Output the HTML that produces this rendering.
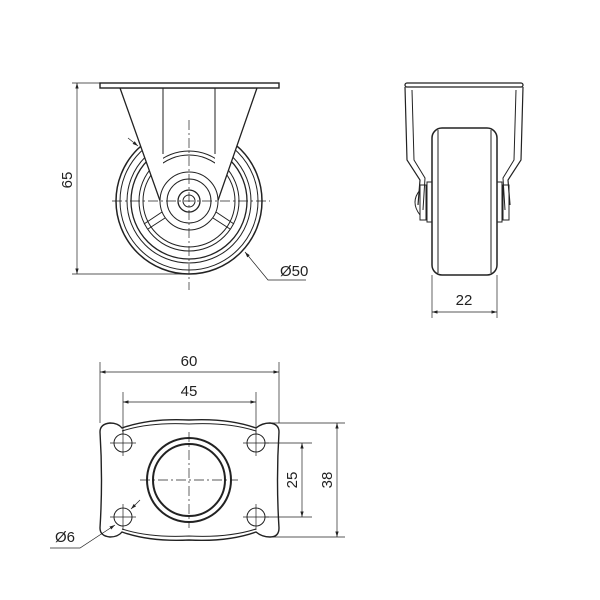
<!DOCTYPE html>
<html><head><style>body{margin:0;background:#fff}svg{display:block}text{font-family:"Liberation Sans",sans-serif;font-size:15px;fill:#222}</style></head><body>
<svg width="600" height="600" viewBox="0 0 600 600" xmlns="http://www.w3.org/2000/svg">
<defs><marker id="a" viewBox="0 0 10 10" refX="10" refY="5" markerWidth="8" markerHeight="8" orient="auto-start-reverse"><path d="M0,2 L10,5 L0,8 z" fill="#222"/></marker>
<clipPath id="strip"><rect x="163" y="88" width="52" height="100"/></clipPath></defs>
<g fill="none" stroke="#222" stroke-width="1">
<!-- FRONT VIEW -->
<line x1="72" y1="83" x2="110" y2="83" stroke-width="0.7"/>
<line x1="72" y1="274" x2="185" y2="274" stroke-width="0.7"/>
<line x1="77" y1="83" x2="77" y2="274" stroke-width="0.7" marker-start="url(#a)" marker-end="url(#a)"/>
<circle cx="189" cy="201" r="73" stroke-width="1.5"/>
<circle cx="189" cy="201" r="69"/>
<circle cx="189" cy="201" r="62"/>
<circle cx="189" cy="201" r="58" stroke-width="1.3"/>
<circle cx="189" cy="201" r="50"/>
<circle cx="189" cy="201" r="46"/>
<!-- spokes -->
<path d="M162 212 L144 224 M165 218 L148 229 M216 212 L234 224 M213 218 L230 229" fill="none"/>
<polygon points="120,88 257,88 214,212 164,212" fill="#fff" stroke-width="1.3"/>
<g clip-path="url(#strip)">
<circle cx="189" cy="201" r="50"/>
<circle cx="189" cy="201" r="46"/>
</g>
<path d="M163 88 L163 154 M215 88 L215 154"/>
<circle cx="189" cy="201" r="29" fill="#fff"/>
<circle cx="189" cy="201" r="22"/>
<circle cx="189" cy="201" r="11" stroke-width="1.3"/>
<circle cx="189" cy="201" r="6"/>
<rect x="100" y="83" width="179" height="5" stroke-width="1.4" fill="#fff"/>
<path d="M189 120 V290 M112 201 H270" stroke-dasharray="10 3 2 3" stroke-width="0.7"/>
<line x1="128" y1="138" x2="138" y2="146" stroke-width="0.7" marker-end="url(#a)"/>
<path d="M245 252 L268 280 L306 280" stroke-width="0.7" marker-start="url(#a)"/>
<!-- SIDE VIEW -->
<rect x="405" y="83" width="118" height="4" rx="2" stroke-width="1.3"/>
<path d="M405 87 L407 160 L420 180 L418 205 M523 87 L521 160 L508 180 L510 205" stroke-width="1.2"/>
<path d="M412 90 L414 160 L425 178 L423 210 M516 90 L514 160 L503 178 L505 210"/>
<rect x="432" y="128" width="65" height="147" rx="10" stroke-width="1.5" fill="#fff"/>
<line x1="438" y1="130" x2="438" y2="273"/><line x1="491" y1="130" x2="491" y2="273"/>
<rect x="427" y="182" width="5" height="40"/><rect x="497" y="182" width="5" height="40"/>
<rect x="420" y="185" width="6" height="35"/><rect x="503" y="185" width="6" height="35"/>
<path d="M420 190 Q410 202 420 215"/>
<line x1="432" y1="275" x2="432" y2="318" stroke-width="0.7"/>
<line x1="497" y1="275" x2="497" y2="318" stroke-width="0.7"/>
<line x1="432" y1="312" x2="497" y2="312" stroke-width="0.7" marker-start="url(#a)" marker-end="url(#a)"/>
<!-- BOTTOM VIEW -->
<path d="M110 423 Q118 423 122 428 Q150 418 189 420 Q228 418 256 428 Q262 423 270 423 Q279 424 279 432 Q276 480 279 528 Q279 537 270 537 Q262 537 256 532 Q228 542 189 540 Q150 542 122 532 Q118 537 110 537 Q100 536 100 528 Q103 480 100 432 Q100 424 110 423 Z" stroke-width="1.4"/>
<path d="M122 431 Q150 422 189 424 Q228 422 256 431 M122 529 Q150 538 189 536 Q228 538 256 529"/>
<circle cx="189" cy="480" r="42" stroke-width="2"/>
<circle cx="189" cy="480" r="36" stroke-width="2"/>
<circle cx="123" cy="443" r="9"/><circle cx="256" cy="443" r="9"/>
<circle cx="123" cy="517" r="9"/><circle cx="256" cy="517" r="9"/>
<g stroke-width="0.7" stroke-dasharray="10 3 2 3">
<path d="M189 432 V528 M140 480 H238"/>
</g>
<g stroke-width="0.7">
<path d="M110 443 H136 M123 430 V456 M110 517 H136 M123 504 V530 M243 443 H269 M256 430 V456 M243 517 H269 M256 504 V530"/>
<line x1="100" y1="362" x2="100" y2="423"/><line x1="279" y1="362" x2="279" y2="423"/>
<line x1="100" y1="372" x2="279" y2="372" marker-start="url(#a)" marker-end="url(#a)"/>
<line x1="123" y1="392" x2="123" y2="434"/><line x1="256" y1="392" x2="256" y2="434"/>
<line x1="123" y1="402" x2="256" y2="402" marker-start="url(#a)" marker-end="url(#a)"/>
<line x1="265" y1="443" x2="312" y2="443"/><line x1="265" y1="517" x2="312" y2="517"/>
<line x1="302" y1="443" x2="302" y2="517" marker-start="url(#a)" marker-end="url(#a)"/>
<line x1="272" y1="423" x2="345" y2="423"/><line x1="272" y1="537" x2="345" y2="537"/>
<line x1="337" y1="423" x2="337" y2="537" marker-start="url(#a)" marker-end="url(#a)"/>
<line x1="140" y1="500" x2="131" y2="509" marker-end="url(#a)"/>
<path d="M115 525 L80 548 L50 548" marker-start="url(#a)"/>
</g>
</g>
<text x="72" y="180" text-anchor="middle" transform="rotate(-90 72 180)">65</text>
<text x="280" y="276">Ø50</text>
<text x="464" y="305" text-anchor="middle">22</text>
<text x="189" y="366" text-anchor="middle">60</text>
<text x="189" y="396" text-anchor="middle">45</text>
<text x="297" y="480" text-anchor="middle" transform="rotate(-90 297 480)">25</text>
<text x="332" y="480" text-anchor="middle" transform="rotate(-90 332 480)">38</text>
<text x="55" y="542">Ø6</text>
</svg>
</body></html>
